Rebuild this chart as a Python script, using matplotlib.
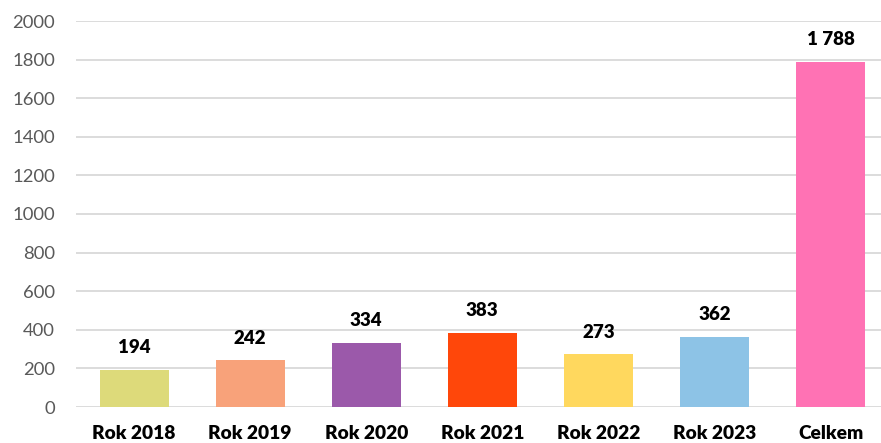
import matplotlib
matplotlib.use("Agg")
import matplotlib.pyplot as plt

categories = ["Rok 2018", "Rok 2019", "Rok 2020", "Rok 2021", "Rok 2022", "Rok 2023", "Celkem"]
values = [194, 242, 334, 383, 273, 362, 1788]
colors = ["#DDDA7A", "#F8A27A", "#9B59AA", "#FF470A", "#FFD85E", "#8DC3E6", "#FF72B4"]
yticks = [0, 200, 400, 600, 800, 1000, 1200, 1400, 1600, 1800, 2000]

plt.rcParams['font.family'] = ['Lato', 'DejaVu Sans']

W, H = 881, 443
fig = plt.figure(figsize=(W/100, H/100), dpi=100)
left, right, top, bottom = 76, 881, 21, 407
ax = fig.add_axes([left/W, 1-bottom/H, (right-left)/W, (bottom-top)/H])

x = list(range(len(categories)))
bars = ax.bar(x, values, width=0.594, color=colors, zorder=3)
ax.set_xlim(-0.5, 6.435)
ax.set_ylim(0, 2000)
ax.set_yticks(yticks)
ax.set_yticklabels([str(t) for t in yticks])
ax.yaxis.grid(True, color="#D9D9D9", linewidth=1.3, zorder=0)
for s in ax.spines.values():
    s.set_visible(False)
ax.tick_params(axis='both', length=0)
ax.tick_params(axis='y', labelsize=13.3, labelcolor="#595959", pad=15)
ax.set_xticks(x)
ax.set_xticklabels(categories, fontsize=13.8, fontweight='heavy', color="#000000")
ax.tick_params(axis='x', pad=13)

for xi, v in zip(x, values):
    lbl = f"{v:,}".replace(",", " ")
    ax.annotate(lbl, (xi, v), xytext=(0, 16), textcoords='offset points',
                ha='center', va='center', fontsize=13.5, fontweight='heavy', color="#000000")

fig.savefig("out.png", dpi=100)
